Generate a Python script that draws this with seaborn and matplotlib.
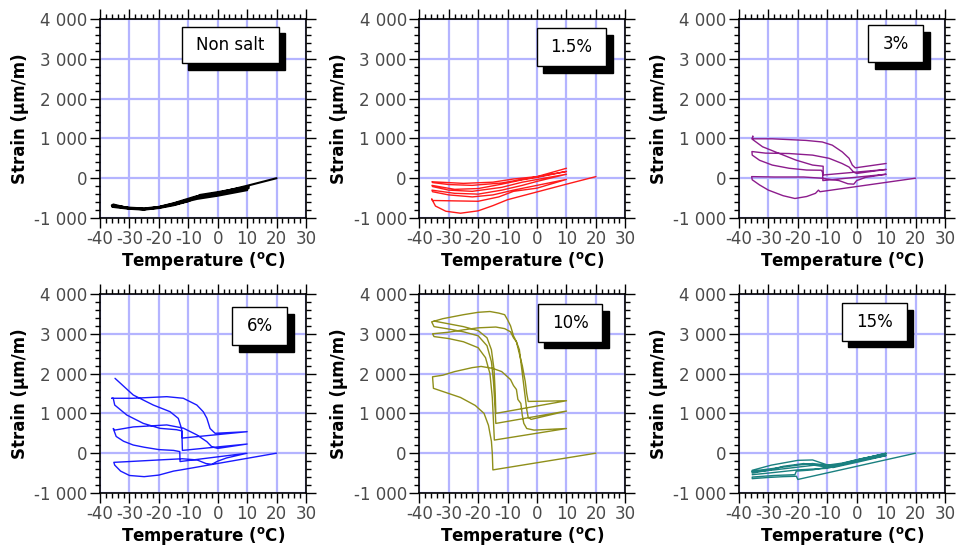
import numpy as np
import pandas as pd
import matplotlib
matplotlib.use("Agg")
import matplotlib.pyplot as plt
import seaborn as sns
from matplotlib.patches import Rectangle
from matplotlib.ticker import MultipleLocator, FuncFormatter

# ---- data (temperature degC, strain um/m), one path per panel ----
nonsalt_T = [20, 10, 0, -8, -15, -20, -25, -30, -35.5,
             -35.8, -30, -25, -20, -15, -10, -7, 0, 10,
             10, 0, -7, -15, -20, -25, -30, -35.5,
             -35.8, -30, -25, -20, -14, -9, -6, 0, 10.5,
             10.5, 0, -8, -15, -20, -25, -30, -36]
nonsalt_S = [0, -190, -370, -470, -630, -720, -760, -740, -690,
             -720, -770, -790, -750, -680, -580, -450, -390, -270,
             -300, -440, -520, -660, -740, -780, -760, -660,
             -700, -760, -780, -730, -650, -540, -420, -350, -210,
             -250, -420, -500, -640, -730, -770, -750, -680]

salt15_T = [20, 10, -10,
            -15, -20, -26, -31, -34.5, -35.8,
            -35.5, -28, -20, -13, -8, 0, 10,
            -8, -15, -22, -30, -35.5,
            -35.7, -28, -20, -12, -5, 0, 10,
            -5, -12, -22, -30, -35.5,
            -35.7, -28, -20, -12, -5, 0, 10,
            -5, -12, -22, -30, -35.5,
            -35.7, -25, -15, -8, 0, 10]
salt15_S = [40, -150, -540,
            -690, -820, -880, -830, -700, -520,
            -560, -570, -580, -470, -330, -250, -30,
            -300, -420, -470, -420, -340,
            -300, -380, -400, -300, -180, -80, 100,
            -100, -230, -330, -300, -210,
            -180, -280, -260, -150, -40, 20, 170,
            -30, -120, -180, -160, -110,
            -90, -130, -100, -20, 40, 250]

salt3_T = [20, -12.5,
           -13, -14, -17, -21, -25, -30, -33, -35.5, -35.7,
           -28, -18, -12, -6, -3, -1, 0, 3, 10,
           -11.5,
           -11.6, -12, -17, -23, -28.7, -33, -35.5, -35.6,
           -31, -23, -15, -9.4, -5, -2.6, -1, 0, 10,
           -11.4,
           -11.4, -15, -20.7, -26.4, -32, -35.5, -35.3,
           -35.5, -28.7, -17.3, -11.7, -8.3, -4.9, -2.6, -1.5, -0.5, 10]
salt3_S = [0, -340,
           -300, -380, -460, -510, -440, -300, -170, -40, 40,
           30, 30, 0, -60, -140, -150, -60, 20, 100,
           -60,
           150, 200, 205, 250, 330, 450, 580, 670,
           630, 620, 580, 500, 370, 280, 150, 120, 220,
           80,
           300, 330, 456, 624, 790, 980, 1060,
           990, 990, 950, 910, 830, 660, 500, 330, 260, 370]

salt6_T = [20, -12.5,
           -15, -20, -25, -30, -33, -35, -35.3,
           -30, -20, -12, -7, -4, -2, 0, 3, 10,
           -12.8,
           -12.9, -15, -20, -25, -28.7, -32, -34.5, -35.5,
           -35, -28.7, -17.3, -11.7, -7.1, -3.7, -2, 0, 10,
           -12,
           -12.2, -14, -19.6, -25.3, -30.9, -35, -35.5,
           -36, -28.7, -17.3, -11.7, -7.1, -4.9, -3.7, -2.6, -0.9, 10,
           -12,
           -12.3, -13.4, -16.2, -21.9, -28.7, -34.9]
salt6_S = [0, -420,
           -450, -550, -590, -560, -450, -300, -230,
           -210, -170, -140, -170, -260, -280, -200, -120, 0,
           -210,
           40, 70, 90, 150, 205, 300, 420, 620,
           580, 660, 710, 630, 460, 290, 160, 120, 230,
           70,
           560, 590, 624, 749, 959, 1210, 1380,
           1380, 1380, 1420, 1380, 1210, 1040, 880, 620, 500, 540,
           380,
           620, 875, 1043, 1210, 1462, 1881]

salt10_T = [20, -15,
            -15.2, -15.5, -16.5, -18, -21, -26, -32, -35.2,
            -35.5, -32, -28, -22, -19, -15, -12, -9, -8, -7, -6.5, -5.5, -5, -4.5, -3.5, -1, 10,
            -14.5, -14.8, -15.2, -16, -17.5, -20, -25, -30, -35,
            -35.5, -30, -25, -20, -14, -11, -9, -8, -7, -6, -5.5, -5, -4.5, -4, -3.5, -3, -2, 10,
            -14, -14.3, -14.8, -15.5, -17, -20, -25, -30, -35,
            -35.8, -32, -25, -20, -16, -13, -11, -10, -9, -8, -7, -6, -5, -4, -3.5, -3, 10,
            -14, -14.2, -14.6, -15.5, -17, -20, -25, -30, -35]
salt10_S = [0, -420,
            0, 300, 700, 1000, 1200, 1400, 1550, 1630,
            1920, 1960, 2050, 2150, 2180, 2130, 2050, 1850, 1700, 1600, 1350, 1250, 950, 750, 620, 580, 620,
            330, 800, 1400, 2000, 2400, 2650, 2800, 2880, 2930,
            3000, 3040, 3100, 3150, 3170, 3130, 3050, 2900, 2800, 2600, 2300, 2000, 1700, 1400, 1100, 900, 850, 1058,
            748, 1200, 1800, 2300, 2700, 2950, 3050, 3120, 3180,
            3300, 3380, 3480, 3540, 3560, 3520, 3480, 3350, 3200, 2950, 2800, 2500, 2200, 1800, 1500, 1300, 1318,
            1000, 1500, 2100, 2600, 2900, 3080, 3180, 3250, 3320]

salt15b_T = [20, -20,
             -20.5, -25, -30, -35.5,
             -35.5, -28, -21, -20.5, -15, -8, 0, 10,
             0, -8, -12, -18, -25, -30, -35.5,
             -35.5, -29, -20, -15, -11, -8, 0, 10,
             0, -8, -13, -20, -28, -35.5,
             -35.5, -28, -20, -15, -10, -5, 2, 10,
             0, -10, -20, -30, -35.5]
salt15b_S = [0, -660,
             -580, -590, -610, -640,
             -600, -560, -540, -450, -420, -330, -200, -60,
             -230, -360, -330, -260, -330, -430, -500,
             -430, -300, -180, -170, -270, -340, -180, 0,
             -170, -320, -290, -350, -420, -470,
             -450, -380, -300, -260, -300, -250, -130, -20,
             -200, -380, -420, -500, -540]

panels = [
    ("Non salt", nonsalt_T, nonsalt_S, "#000000"),
    ("1.5%", salt15_T, salt15_S, "#ff1a1a"),
    ("3%", salt3_T, salt3_S, "#8c1c8c"),
    ("6%", salt6_T, salt6_S, "#1a1aff"),
    ("10%", salt10_T, salt10_S, "#8f8f1a"),
    ("15%", salt15b_T, salt15b_S, "#1a8080"),
]

# label box corners in axes fraction (x0, x1, y_bottom, y_top)
boxes = [
    (0.397, 0.867, 0.777, 0.961),
    (0.570, 0.906, 0.764, 0.953),
    (0.628, 0.895, 0.782, 0.970),
    (0.642, 0.909, 0.744, 0.933),
    (0.575, 0.888, 0.760, 0.948),
    (0.499, 0.814, 0.765, 0.953),
]

sns.set_style("white")
plt.rcParams['font.family'] = ['DejaVu Sans']
plt.rcParams['axes.unicode_minus'] = False

fig = plt.figure(figsize=(9.56, 5.48), dpi=100)
lefts = [0.1046, 0.4386, 0.7730]
bottoms = [0.6022, 0.1004]
w, h = 0.2155, 0.3631

thousands = FuncFormatter(lambda v, p: f"{int(round(v)):,}".replace(",", " "))

for i, (name, T, S, col) in enumerate(panels):
    ax = fig.add_axes([lefts[i % 3], bottoms[i // 3], w, h])
    df = pd.DataFrame({"T": T, "S": S})
    sns.lineplot(data=df, x="T", y="S", sort=False, estimator=None,
                 color=col, lw=1.5 if i == 0 else 1.0, ax=ax, zorder=3)
    ax.set_xlim(-40, 30)
    ax.set_ylim(-1000, 4000)
    ax.xaxis.set_major_locator(MultipleLocator(10))
    ax.xaxis.set_minor_locator(MultipleLocator(2))
    ax.yaxis.set_major_locator(MultipleLocator(1000))
    ax.yaxis.set_minor_locator(MultipleLocator(200))
    ax.yaxis.set_major_formatter(thousands)
    ax.grid(True, which="major", color="#b4b4ff", lw=1.6, zorder=0)
    ax.set_axisbelow(True)
    for sp in ax.spines.values():
        sp.set_linewidth(1.2)
        sp.set_color("black")
        sp.set_zorder(4)
    ax.tick_params(which="both", direction="out", top=True, right=True,
                   bottom=True, left=True, color="black", width=1)
    ax.tick_params(which="major", length=7, pad=2, labelsize=12, labelcolor="#4a4a4a")
    ax.tick_params(which="minor", length=3.5)
    ax.set_xlabel(r"Temperature ($^{\mathbf{o}}$C)", fontsize=12, fontweight="bold",
                  color="black", labelpad=1)
    ax.set_ylabel("Strain (μm/m)", fontsize=12, fontweight="bold", color="black", labelpad=4)

    x0, x1, yb, yt = boxes[i]
    ax.add_patch(Rectangle((x0 + 0.032, yb - 0.033), x1 - x0, yt - yb,
                           transform=ax.transAxes, facecolor="black",
                           edgecolor="black", zorder=5))
    ax.add_patch(Rectangle((x0, yb), x1 - x0, yt - yb, transform=ax.transAxes,
                           facecolor="white", edgecolor="black", lw=1, zorder=6))
    ax.text((x0 + x1) / 2, (yb + yt) / 2, name, transform=ax.transAxes,
            ha="center", va="center", fontsize=12, color="black", zorder=7)

fig.savefig("out.png", dpi=100)
